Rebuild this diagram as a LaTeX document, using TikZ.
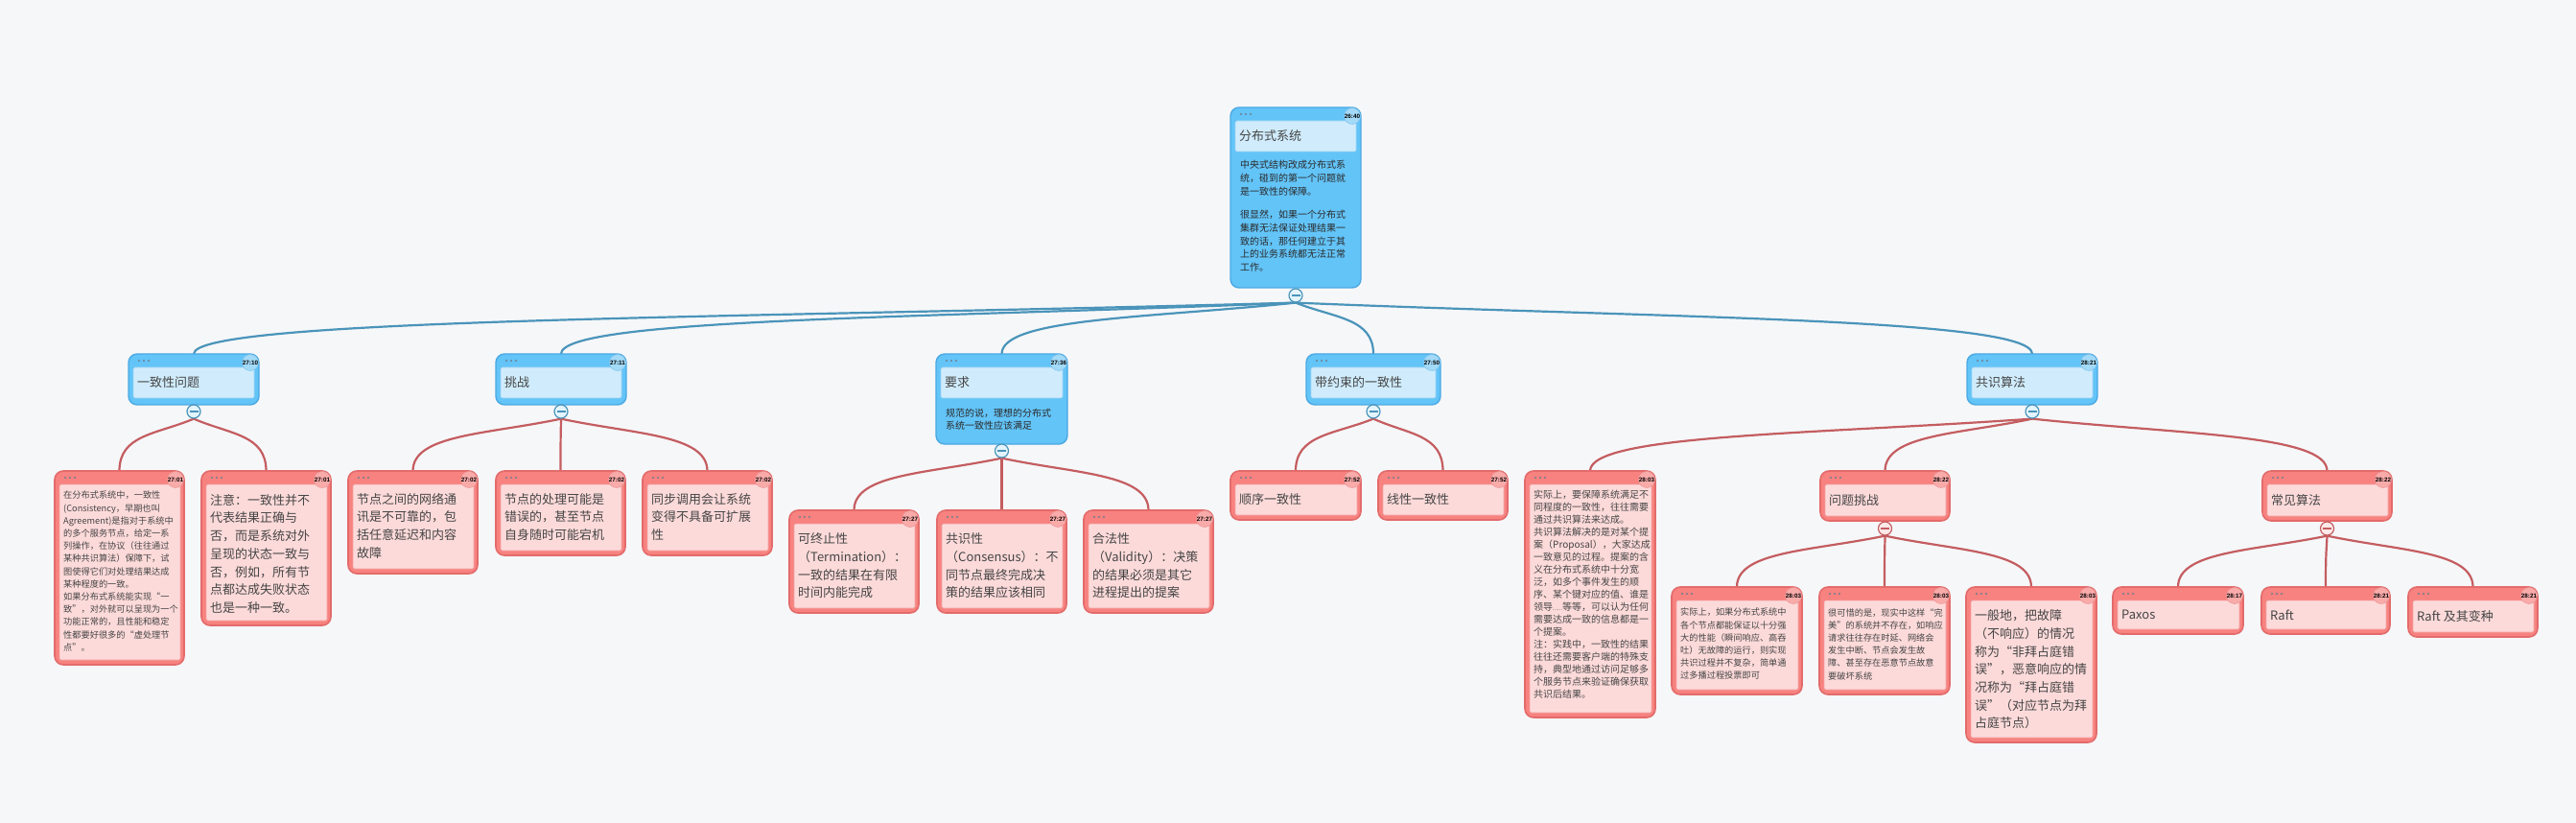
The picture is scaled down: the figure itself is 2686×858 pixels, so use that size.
\documentclass[tikz,border=0pt]{standalone}
\usepackage{fontspec}
\setmainfont{Noto Sans CJK SC}
\newfontfamily\badgefont{Liberation Sans}
\usetikzlibrary{calc}
\definecolor{bgcol}{HTML}{F6F7F9}
\definecolor{bluefill}{HTML}{63C4F8}
\definecolor{blueedge}{HTML}{4BA9E3}
\definecolor{blueinner}{HTML}{D0ECFC}
\definecolor{blueinneredge}{HTML}{9DD4F5}
\definecolor{bluebadge}{HTML}{A3DAF8}
\definecolor{redfill}{HTML}{F7827F}
\definecolor{rededge}{HTML}{E36B6B}
\definecolor{redinner}{HTML}{FDDADA}
\definecolor{redinneredge}{HTML}{F2A3A3}
\definecolor{redbadge}{HTML}{F9ABAA}
\definecolor{bluelinkcol}{HTML}{4A94BA}
\definecolor{redlinkcol}{HTML}{C45D60}
\definecolor{txtred}{HTML}{454545}
\definecolor{txtblue}{HTML}{2A2A2A}
\definecolor{dotcol}{HTML}{6F7F8F}
\pgfdeclarelayer{bglayer}
\pgfdeclarelayer{linklayer}
\pgfsetlayers{bglayer,linklayer,main}
\tikzset{
 bluecardbox/.style={rectangle, draw=blueedge, fill=bluefill, line width=1.4pt, rounded corners=9pt, inner sep=0pt, outer sep=0pt},
 redcardbox/.style={rectangle, draw=rededge, fill=redfill, line width=1.6pt, rounded corners=9pt, inner sep=0pt, outer sep=0pt},
 blueinbox/.style={rectangle, draw=blueinneredge, fill=blueinner, line width=0.6pt, rounded corners=1.5pt, inner sep=0pt, outer sep=0pt},
 redinbox/.style={rectangle, draw=redinneredge, fill=redinner, line width=0.6pt, rounded corners=1.5pt, inner sep=0pt, outer sep=0pt},
 bluebadgestyle/.style={circle, draw=blueedge!70, fill=bluebadge, line width=0.5pt, minimum size=17pt, inner sep=0pt, font=\badgefont\bfseries\fontsize{6.3}{7}\selectfont, text=black},
 redbadgestyle/.style={circle, draw=rededge!70, fill=redbadge, line width=0.5pt, minimum size=17pt, inner sep=0pt, font=\badgefont\bfseries\fontsize{6.3}{7}\selectfont, text=black},
 titletext/.style={anchor=west, inner sep=0pt, text=txtred, font=\fontsize{13}{16}\selectfont},
 bigtext/.style={anchor=north west, inner sep=0pt, align=left, text=txtred, font=\fontsize{13}{18.7}\selectfont},
 smalltext/.style={anchor=north west, inner sep=0pt, align=left, text=txtred, font=\fontsize{9.2}{13.2}\selectfont},
 ktext/.style={anchor=north west, inner sep=0pt, align=left, text=txtred, font=\fontsize{10}{13}\selectfont},
 bodytext/.style={anchor=north west, inner sep=0pt, align=left, text=txtblue, font=\fontsize{10}{13.7}\selectfont},
 bluecollapse/.style={circle, draw=bluelinkcol, fill=blueinner!60!white, line width=1.2pt, minimum size=14pt, inner sep=0pt,
   path picture={\draw[bluelinkcol, line width=1.4pt] ([xshift=-4.5pt]path picture bounding box.center) -- ([xshift=4.5pt]path picture bounding box.center);}},
 redcollapse/.style={circle, draw=redlinkcol, fill=redinner!60!white, line width=1.2pt, minimum size=14pt, inner sep=0pt,
   path picture={\draw[redlinkcol, line width=1.4pt] ([xshift=-4.5pt]path picture bounding box.center) -- ([xshift=4.5pt]path picture bounding box.center);}},
 bluelink/.style={draw=bluelinkcol, line width=2.2pt},
 redlink/.style={draw=redlinkcol, line width=2.2pt},
 mmcurve/.style={to path={let \p1=($(\tikztostart)!0.5!(\tikztotarget)$), \p2=($(\tikztostart)!0.3!(\tikztotarget)$), \p3=(\tikztotarget) in .. controls (\x1,\y2) and (\x3,\y2) .. (\tikztotarget)}},
}
% #1 name, #2 x, #3 y, #4 w, #5 h, #6 badge
\newcommand{\redcard}[6]{%
 \node[redcardbox, minimum width=#4, minimum height=#5, anchor=north west] (#1) at (#2,#3) {};
 \node[redinbox, minimum width=#4-9, minimum height=#5-19, anchor=north west] (#1-in) at ($(#1.north west)+(5,14)$) {};
 \node[redbadgestyle] (#1-b) at ($(#1.north east)+(-9,9)$) {#6};
 \fill[dotcol] ($(#1.north west)+(11,7)$) circle (1.1pt) ($(#1.north west)+(16,7)$) circle (1.1pt) ($(#1.north west)+(21,7)$) circle (1.1pt);
}
% #1 name, #2 x, #3 y, #4 w, #5 h, #6 badge, #7 title
\newcommand{\bluecard}[7]{%
 \node[bluecardbox, minimum width=#4, minimum height=#5, anchor=north west] (#1) at (#2,#3) {};
 \node[blueinbox, minimum width=#4-10, minimum height=32, anchor=north west] (#1-in) at ($(#1.north west)+(5,14)$) {};
 \node[titletext] (#1-t) at ($(#1-in.west)+(4,0)$) {#7};
 \node[bluebadgestyle] (#1-b) at ($(#1.north east)+(-9,9)$) {#6};
 \fill[dotcol] ($(#1.north west)+(11,7)$) circle (1.1pt) ($(#1.north west)+(16,7)$) circle (1.1pt) ($(#1.north west)+(21,7)$) circle (1.1pt);
}
\begin{document}
\begin{tikzpicture}[x=1pt,y=-1pt]
\useasboundingbox (0,0) rectangle (2686,858);
\begin{pgfonlayer}{bglayer}
\fill[bgcol] (0,0) rectangle (2686,858);
\end{pgfonlayer}

% root
\bluecard{root}{1283}{112}{136}{188}{26:40}{分布式系统}
\node[bodytext] (root-body) at ($(root.north west)+(10,55)$) {中央式结构改成分布式系\\统，碰到的第一个问题就\\是一致性的保障。\\[11pt]很显然，如果一个分布式\\集群无法保证处理结果一\\致的话，那任何建立于其\\上的业务系统都无法正常\\工作。};
\node[bluecollapse] (root-c) at ($(root.south)+(0,8)$) {};

% level 1
\bluecard{P1}{134}{369}{136}{53}{27:10}{一致性问题}
\bluecard{P2}{517}{369}{136}{53}{27:11}{挑战}
\bluecard{P3}{976}{369}{137}{94}{27:36}{要求}
\node[bodytext, font=\fontsize{10}{12.7}\selectfont] (P3-body) at ($(P3.north west)+(10,57)$) {规范的说，理想的分布式\\系统一致性应该满足};
\bluecard{P4}{1362}{369}{140}{53}{27:50}{带约束的一致性}
\bluecard{P5}{2051}{369}{136}{53}{28:21}{共识算法}
\foreach \nm in {P1,P2,P3,P4,P5} {\node[bluecollapse] (\nm-c) at ($(\nm.south)+(0,7)$) {};}

% level 2 : 一致性问题
\redcard{A}{57}{491}{135}{202}{27:01}
\node[smalltext] (A-t) at ($(A.north west)+(9,21)$) {在分布式系统中，一致性\\(Consistency，早期也叫\\Agreement)是指对于系统中\\的多个服务节点，给定一系\\列操作，在协议（往往通过\\某种共识算法）保障下，试\\图使得它们对处理结果达成\\某种程度的一致。\\如果分布式系统能实现“一\\致”，对外就可以呈现为一个\\功能正常的，且性能和稳定\\性都要好很多的“虚处理节\\点”。};
\redcard{B}{210}{491}{135}{161}{27:01}
\node[bigtext] (B-t) at ($(B.north west)+(9,24)$) {注意：一致性并不\\代表结果正确与\\否，而是系统对外\\呈现的状态一致与\\否，例如，所有节\\点都达成失败状态\\也是一种一致。};

% level 2 : 挑战
\redcard{C}{363}{491}{135}{107}{27:02}
\node[bigtext] (C-t) at ($(C.north west)+(9,23)$) {节点之间的网络通\\讯是不可靠的，包\\括任意延迟和内容\\故障};
\redcard{D}{517}{491}{135}{88}{27:02}
\node[bigtext] (D-t) at ($(D.north west)+(9,23)$) {节点的处理可能是\\错误的，甚至节点\\自身随时可能宕机};
\redcard{E}{670}{491}{135}{88}{27:02}
\node[bigtext] (E-t) at ($(E.north west)+(9,23)$) {同步调用会让系统\\变得不具备可扩展\\性};

% level 2 : 要求
\redcard{F}{823}{532}{135}{107}{27:27}
\node[bigtext] (F-t) at ($(F.north west)+(9,23.5)$) {可终止性\\（Termination）：\\一致的结果在有限\\时间内能完成};
\redcard{G}{977}{532}{135}{107}{27:27}
\node[bigtext] (G-t) at ($(G.north west)+(9,23.5)$) {共识性\\（Consensus）：不\\同节点最终完成决\\策的结果应该相同};
\redcard{H}{1130}{532}{135}{107}{27:27}
\node[bigtext] (H-t) at ($(H.north west)+(9,23.5)$) {合法性\\（Validity）：决策\\的结果必须是其它\\进程提出的提案};

% level 2 : 带约束的一致性
\redcard{I}{1283}{491}{136}{51}{27:52}
\node[titletext] (I-t) at ($(I-in.west)+(4,0)$) {顺序一致性};
\redcard{J}{1437}{491}{135}{51}{27:52}
\node[titletext] (J-t) at ($(J-in.west)+(4,0)$) {线性一致性};

% level 2 : 共识算法
\redcard{K}{1590}{491}{136}{257}{28:03}
\node[ktext] (K-t) at ($(K.north west)+(9,20)$) {实际上，要保障系统满足不\\同程度的一致性，往往需要\\通过共识算法来达成。\\共识算法解决的是对某个提\\案（Proposal），大家达成\\一致意见的过程。提案的含\\义在分布式系统中十分宽\\泛，如多个事件发生的顺\\序、某个键对应的值、谁是\\领导{\fontsize{6}{6}\selectfont ......}等等，可以认为任何\\需要达成一致的信息都是一\\个提案。\\注：实践中，一致性的结果\\往往还需要客户端的特殊支\\持，典型地通过访问足够多\\个服务节点来验证确保获取\\共识后结果。};
\redcard{L}{1898}{491}{135}{52}{28:22}
\node[titletext] (L-t) at ($(L-in.west)+(4,0)$) {问题挑战};
\node[redcollapse] (L-c) at ($(L.south)+(0,8)$) {};
\redcard{M}{2359}{491}{135}{52}{28:22}
\node[titletext] (M-t) at ($(M-in.west)+(4,0)$) {常见算法};
\node[redcollapse] (M-c) at ($(M.south)+(0,8)$) {};

% level 3 : 问题挑战
\redcard{N}{1743}{612}{136}{112}{28:03}
\node[smalltext] (N-t) at ($(N.north west)+(9,22)$) {实际上，如果分布式系统中\\各个节点都能保证以十分强\\大的性能（瞬间响应、高吞\\吐）无故障的运行，则实现\\共识过程并不复杂，简单通\\过多播过程投票即可};
\redcard{O}{1897}{612}{136}{112}{28:03}
\node[smalltext] (O-t) at ($(O.north west)+(9,22)$) {很可惜的是，现实中这样“完\\美”的系统并不存在，如响应\\请求往往存在时延、网络会\\发生中断、节点会发生故\\障、甚至存在恶意节点故意\\要破坏系统};
\redcard{Pn}{2050}{612}{136}{162}{28:03}
\node[bigtext] (Pn-t) at ($(Pn.north west)+(9,23.5)$) {一般地，把故障\\（不响应）的情况\\称为“非拜占庭错\\误”，恶意响应的情\\况称为“拜占庭错\\误”（对应节点为拜\\占庭节点）};

% level 3 : 常见算法
\redcard{Q}{2203}{612}{136}{49}{28:17}
\node[titletext] (Q-t) at ($(Q-in.west)+(4,0)$) {Paxos};
\redcard{R}{2358}{612}{134}{49}{28:21}
\node[titletext] (R-t) at ($(R-in.west)+(4,0)$) {Raft};
\redcard{S}{2511}{612}{135}{52}{28:21}
\node[titletext] (S-t) at ($(S-in.west)+(4,0)$) {Raft 及其变种};

% connectors
\begin{pgfonlayer}{linklayer}
\foreach \tg in {P1,P2,P3,P4,P5} {\draw[bluelink] (root-c.south) to[mmcurve] (\tg.north);}
\foreach \tg in {A,B} {\draw[redlink] (P1-c.south) to[mmcurve] (\tg.north);}
\foreach \tg in {C,D,E} {\draw[redlink] (P2-c.south) to[mmcurve] (\tg.north);}
\foreach \tg in {F,G,H} {\draw[redlink] (P3-c.south) to[mmcurve] (\tg.north);}
\foreach \tg in {I,J} {\draw[redlink] (P4-c.south) to[mmcurve] (\tg.north);}
\foreach \tg in {K,L,M} {\draw[redlink] (P5-c.south) to[mmcurve] (\tg.north);}
\foreach \tg in {N,O,Pn} {\draw[redlink] (L-c.south) to[mmcurve] (\tg.north);}
\foreach \tg in {Q,R,S} {\draw[redlink] (M-c.south) to[mmcurve] (\tg.north);}
\end{pgfonlayer}
\end{tikzpicture}
\end{document}
